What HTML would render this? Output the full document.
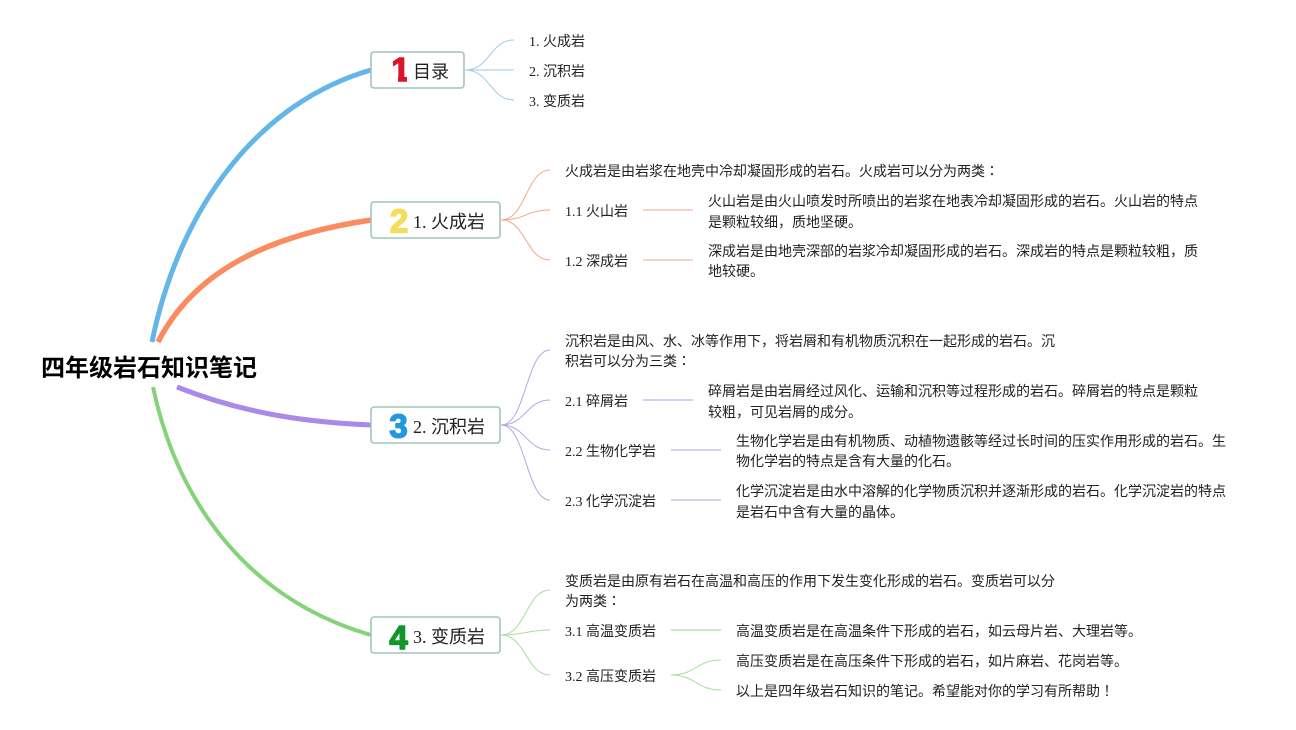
<!DOCTYPE html>
<html><head><meta charset="utf-8">
<style>
html,body{margin:0;padding:0;background:#fff;width:1296px;height:730px;overflow:hidden}
svg{display:block}
text{font-family:"Liberation Serif","Noto Sans CJK JP",serif;font-size:14px;fill:#222}
.t{font-size:18px;fill:#222}
.n{font-family:"Liberation Sans",sans-serif;font-weight:bold;font-size:33px;text-anchor:middle;stroke-width:1.5;stroke-linejoin:round}
.r{font-family:"Liberation Sans","Noto Sans CJK JP",sans-serif;font-weight:bold;font-size:24px;fill:#000}
.b{fill:none;stroke-width:1}
.box{fill:#fff;stroke:#a3c4bd;stroke-width:1.6}
</style></head><body>
<svg width="1296" height="730" viewBox="0 0 1296 730" xmlns="http://www.w3.org/2000/svg">
<defs>
<clipPath id="one"><path d="M392 55H407V83H398V68H392Z"/></clipPath>
</defs>
<!-- main branches -->
<path d="M152 342C180 205 260 102 371 70" fill="none" stroke="#65b6e8" stroke-width="5"/>
<path d="M158 342C195 270 270 235 371 220" fill="none" stroke="#fb8c5f" stroke-width="5.5"/>
<path d="M177 387C240 412 300 422 371 425" fill="none" stroke="#a98ae8" stroke-width="5"/>
<path d="M153 387C178 505 250 600 371 635" fill="none" stroke="#85d27a" stroke-width="4"/>
<text class="r" x="41" y="376">四年级岩石知识笔记</text>
<!-- boxes -->
<rect class="box" x="371" y="52" width="93" height="36" rx="3"/>
<rect class="box" x="371" y="202" width="129" height="36" rx="3"/>
<rect class="box" x="371" y="407" width="129" height="36" rx="3"/>
<rect class="box" x="371" y="617" width="129" height="36" rx="3"/>
<text class="n" x="400.500" y="81" clip-path="url(#one)" style="fill:#d9142c;stroke:#d9142c">1</text>
<text class="n" x="399" y="232.500" style="fill:#f4dc5c;stroke:#f4dc5c">2</text>
<text class="n" x="398.500" y="437.500" style="fill:#2299dc;stroke:#2299dc">3</text>
<text class="n" x="398.500" y="649" style="fill:#12962a;stroke:#12962a">4</text>
<text class="t" x="413" y="78">目录</text>
<text class="t" x="413" y="228">1. 火成岩</text>
<text class="t" x="413" y="433">2. 沉积岩</text>
<text class="t" x="413" y="643">3. 变质岩</text>
<!-- branch 1 -->
<g class="b" stroke="#9fcbe6">
<path d="M465 70C490 70 490 40 514 40"/>
<path d="M465 70H514"/>
<path d="M465 70C490 70 490 100 514 100"/>
</g>
<text x="529" y="46">1. 火成岩</text>
<text x="529" y="76">2. 沉积岩</text>
<text x="529" y="106">3. 变质岩</text>
<!-- branch 2 -->
<g class="b" stroke="#f2a987">
<path d="M501 220C526 220 526 170 550 170"/>
<path d="M501 220C526 220 526 210 550 210"/>
<path d="M501 220C526 220 526 260 550 260"/>
</g>
<path d="M643 210H693M643 260H693" stroke="#f3c4ae" stroke-width="1.5" fill="none"/>
<text x="565" y="176">火成岩是由岩浆在地壳中冷却凝固形成的岩石。火成岩可以分为两类：</text>
<text x="565" y="216">1.1 火山岩</text>
<text x="565" y="266">1.2 深成岩</text>
<text x="708" y="206">火山岩是由火山喷发时所喷出的岩浆在地表冷却凝固形成的岩石。火山岩的特点</text>
<text x="708" y="227">是颗粒较细，质地坚硬。</text>
<text x="708" y="256">深成岩是由地壳深部的岩浆冷却凝固形成的岩石。深成岩的特点是颗粒较粗，质</text>
<text x="708" y="276">地较硬。</text>
<!-- branch 3 -->
<g class="b" stroke="#b7a5e3">
<path d="M501 425C526 425 526 350 550 350"/>
<path d="M501 425C526 425 526 400 550 400"/>
<path d="M501 425C526 425 526 450 550 450"/>
<path d="M501 425C526 425 526 500 550 500"/>
</g>
<path d="M643 400H693M671 450H721M671 500H721" stroke="#c9c1e8" stroke-width="1.5" fill="none"/>
<text x="565" y="346">沉积岩是由风、水、冰等作用下，将岩屑和有机物质沉积在一起形成的岩石。沉</text>
<text x="565" y="366">积岩可以分为三类：</text>
<text x="565" y="406">2.1 碎屑岩</text>
<text x="565" y="456">2.2 生物化学岩</text>
<text x="565" y="506">2.3 化学沉淀岩</text>
<text x="708" y="396">碎屑岩是由岩屑经过风化、运输和沉积等过程形成的岩石。碎屑岩的特点是颗粒</text>
<text x="708" y="417">较粗，可见岩屑的成分。</text>
<text x="736" y="446">生物化学岩是由有机物质、动植物遗骸等经过长时间的压实作用形成的岩石。生</text>
<text x="736" y="466">物化学岩的特点是含有大量的化石。</text>
<text x="736" y="496">化学沉淀岩是由水中溶解的化学物质沉积并逐渐形成的岩石。化学沉淀岩的特点</text>
<text x="736" y="517">是岩石中含有大量的晶体。</text>
<!-- branch 4 -->
<g class="b" stroke="#a9dd9f">
<path d="M501 635C526 635 526 590 550 590"/>
<path d="M501 635C526 635 526 630 550 630"/>
<path d="M501 635C526 635 526 675 550 675"/>
<path d="M671 675C696 675 696 660 721 660"/>
<path d="M671 675C696 675 696 690 721 690"/>
</g>
<path d="M671 630H721" stroke="#b9e2b1" stroke-width="1.5" fill="none"/>
<text x="565" y="586">变质岩是由原有岩石在高温和高压的作用下发生变化形成的岩石。变质岩可以分</text>
<text x="565" y="606">为两类：</text>
<text x="565" y="636">3.1 高温变质岩</text>
<text x="565" y="681">3.2 高压变质岩</text>
<text x="736" y="636">高温变质岩是在高温条件下形成的岩石，如云母片岩、大理岩等。</text>
<text x="736" y="666">高压变质岩是在高压条件下形成的岩石，如片麻岩、花岗岩等。</text>
<text x="736" y="696">以上是四年级岩石知识的笔记。希望能对你的学习有所帮助！</text>
</svg>
</body></html>
